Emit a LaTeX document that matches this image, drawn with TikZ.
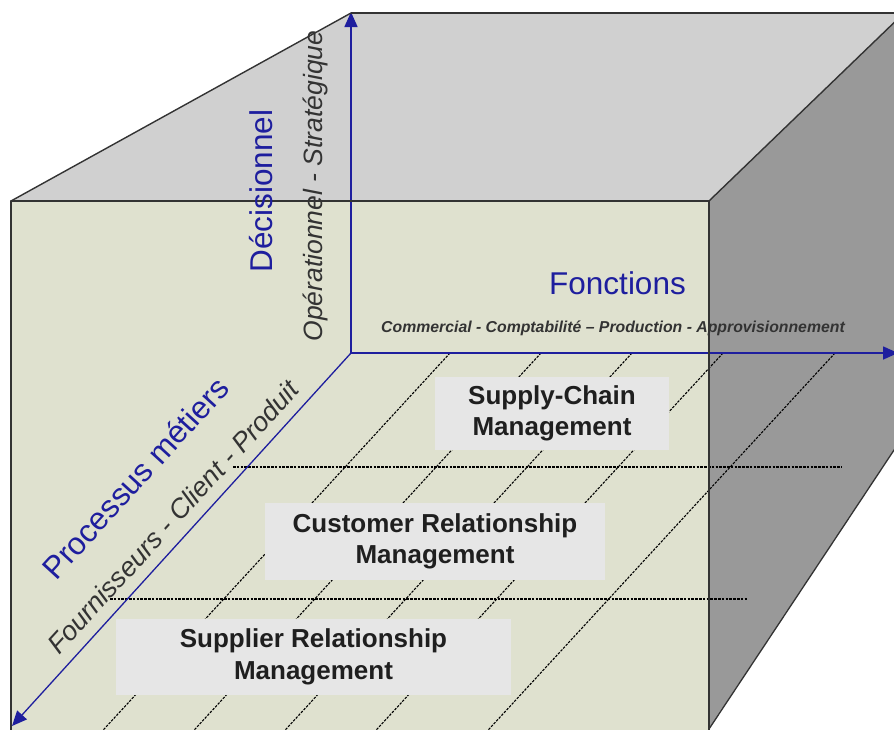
\documentclass[tikz,border=0pt]{standalone}
\usepackage{fontspec}
\setmainfont{Liberation Sans}
\usetikzlibrary{arrows.meta}
\definecolor{frontc}{HTML}{DFE1CF}
\definecolor{topc}{HTML}{D0D0D0}
\definecolor{sidec}{HTML}{999999}
\definecolor{boxc}{HTML}{E6E6E6}
\definecolor{axisc}{HTML}{1E1E9E}
\definecolor{edgec}{HTML}{333333}
\definecolor{txtc}{HTML}{333333}
\begin{document}
\begin{tikzpicture}[x=1pt,y=1pt,
  edge/.style={draw=edgec, line width=1.8pt, line join=round},
  grid/.style={draw=black, line width=1.1pt, dash pattern=on 2.5pt off 1.3pt},
  axis/.style={draw=axisc, line width=1.6pt, -{Triangle[length=15pt,width=13pt]}},
  procbox/.style={fill=boxc, inner sep=0pt, align=center, text=black!88,
    font=\bfseries\fontsize{26}{31.5}\selectfont},
  axtitle/.style={text=axisc, inner sep=0pt, font=\fontsize{31.5}{36}\selectfont},
  axsub/.style={text=txtc, inner sep=0pt, font=\itshape\fontsize{26.5}{30}\selectfont}]
\useasboundingbox (0,0) rectangle (894,-729);
\begin{scope}
\clip (0,0) rectangle (894,-729);
% cube corners
\coordinate (ftl) at (11,-201);
\coordinate (ftr) at (709,-201);
\coordinate (fbl) at (11,-745);
\coordinate (fbr) at (709,-745);
\coordinate (btl) at (351,-13);
\coordinate (btr) at (904,-13);
\coordinate (bbr) at (904,-435);
\coordinate (sbr) at (709,-729);
% faces
\fill[frontc] (ftl) -- (ftr) -- (fbr) -- (fbl) -- cycle;
\fill[topc] (ftl) -- (btl) -- (btr) -- (ftr) -- cycle;
\fill[sidec] (ftr) -- (btr) -- (bbr) -- (sbr) -- cycle;
% dashed grid: diagonals
\foreach \i/\x in {1/450,2/541,3/632,4/723,5/835}{
  \coordinate (dt\i) at (\x,-353);
  \coordinate (db\i) at ({\x-351.4},-735);
  \draw[grid] (dt\i) -- (db\i);
}
% dashed grid: horizontals
\coordinate (h1a) at (233,-467);
\coordinate (h1b) at (842,-467);
\coordinate (h2a) at (110,-599);
\coordinate (h2b) at (747,-599);
\draw[grid] (h1a) -- (h1b);
\draw[grid] (h2a) -- (h2b);
% boxes
\node[procbox, minimum width=234pt, minimum height=73pt] (scm) at (552,-413.5) {Supply-Chain\\Management};
\node[procbox, minimum width=340pt, minimum height=77pt] (crm) at (435,-541.5) {Customer Relationship\\Management};
\node[procbox, minimum width=395pt, minimum height=76pt] (srm) at (313.5,-657) {Supplier Relationship\\Management};
% axes
\coordinate (O) at (351,-353);
\coordinate (ytip) at (351,-12);
\coordinate (xtip) at (898,-353);
\coordinate (ztip) at (12,-726);
\draw[axis] (O) -- (ytip);
\draw[axis] (O) -- (xtip);
\draw[axis, line width=1.3pt] (O) -- (ztip);
% edges
\draw[edge] (fbl) -- (ftl) -- (ftr) -- (fbr);
\draw[edge, line width=1.4pt] (ftl) -- (btl);
\draw[edge] (btl) -- (btr);
\draw[edge, line width=1.4pt] (ftr) -- (btr);
\draw[edge, line width=1.3pt] (sbr) -- (bbr);
\end{scope}
% labels
\node[axtitle, rotate=90, anchor=base] (dec) at (272,-191) {Décisionnel};
\node[axsub, rotate=90, anchor=base] (ops) at (322,-186) {Opérationnel - Stratégique};
\node[axtitle, anchor=base] (fon) at (617.5,-294) {Fonctions};
\node[text=txtc, inner sep=0pt, anchor=base, font=\bfseries\itshape\fontsize{15.8}{18}\selectfont] (fct) at (613,-332) {Commercial - Comptabilité – Production - Approvisionnement};
\node[axtitle, rotate=47.6] (proc) at (135,-478) {Processus métiers};
\node[axsub, font=\itshape\fontsize{27}{30}\selectfont, rotate=47.6] (four) at (173,-517) {Fournisseurs - Client - Produit};
\end{tikzpicture}
\end{document}
